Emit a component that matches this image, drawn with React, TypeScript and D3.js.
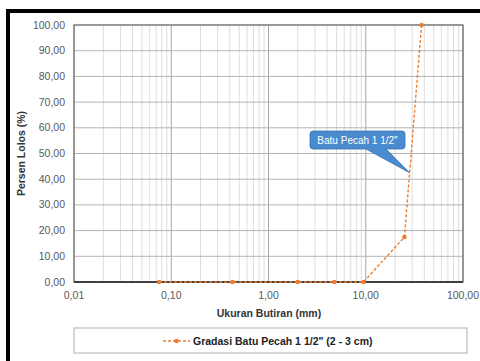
import React from "react";
import * as d3 from "d3";

// Sieve sizes (mm) and cumulative percent passing
const sieveSizes = [0.075, 0.425, 2.0, 4.75, 9.5, 25, 37.5];
const percentPassing = [0, 0, 0, 0, 0, 17.5, 100];
const xTicks = [0.01, 0.1, 1, 10, 100];
const yTicks = [0, 10, 20, 30, 40, 50, 60, 70, 80, 90, 100];
const seriesName = 'Gradasi Batu Pecah 1 1/2" (2 - 3 cm)';
const calloutText = 'Batu Pecah 1 1/2"';

const W = 480;
const H = 361;
const M = { left: 74, right: 463, top: 25, bottom: 282 };
const ORANGE = "#ED7D31";
const FONT = "Liberation Sans, Arial, sans-serif";

const fmt = (v: number) => v.toFixed(2).replace(".", ",");

export default function App() {
  const x = d3.scaleLog().domain([0.01, 100]).range([M.left, M.right]);
  const y = d3.scaleLinear().domain([0, 100]).range([M.bottom, M.top]);

  const minor: number[] = [];
  for (let e = -2; e < 2; e++) {
    for (let k = 2; k <= 9; k++) minor.push(k * Math.pow(10, e));
  }

  const pts = sieveSizes.map((s, i) => [x(s), y(percentPassing[i])] as [number, number]);
  const line = d3.line()(pts) || "";

  // callout points at the last segment of the curve, at 42.5 %
  const [ax, ay] = pts[pts.length - 2];
  const [bx, by] = pts[pts.length - 1];
  const tipY = y(42.5);
  const tipX = ax + ((tipY - ay) / (by - ay)) * (bx - ax);
  const bx0 = 310, bx1 = 405, by0 = 131, by1 = 149;

  return (
    <svg width={W} height={H} style={{ position: "absolute", left: 0, top: 0, background: "#fff" }}>
      <rect x={0} y={0} width={W} height={H} fill="#fff" />
      {/* frame */}
      <rect x={6} y={9} width={W - 6} height={4} fill="#000" />
      <rect x={6} y={9} width={4} height={H - 9} fill="#000" />

      {/* minor grid */}
      {minor.map((v) => (
        <line key={"m" + v} x1={x(v)} x2={x(v)} y1={M.top} y2={M.bottom} stroke="#dcdcdc" strokeWidth={1} />
      ))}
      {/* major grid */}
      {xTicks.map((v) => (
        <line key={"xv" + v} x1={x(v)} x2={x(v)} y1={M.top} y2={M.bottom} stroke="#a6a6a6" strokeWidth={1} />
      ))}
      {yTicks.map((v) => (
        <line key={"yg" + v} x1={M.left} x2={M.right} y1={y(v)} y2={y(v)} stroke="#b4b4b4" strokeWidth={1} />
      ))}
      {/* plot border */}
      <rect x={M.left} y={M.top} width={M.right - M.left} height={M.bottom - M.top} fill="none" stroke="#6e6e6e" strokeWidth={1.2} />
      <line x1={M.left} x2={M.right} y1={M.bottom} y2={M.bottom} stroke="#222" strokeWidth={1.5} />

      {/* y tick labels */}
      {yTicks.map((v) => (
        <text key={"yl" + v} x={65} y={y(v) + 3.5} textAnchor="end" fontSize={10.5} fontFamily={FONT} fill="#595959">
          {fmt(v)}
        </text>
      ))}
      {/* x tick labels */}
      {xTicks.map((v) => (
        <text key={"xl" + v} x={x(v)} y={299} textAnchor="middle" fontSize={10.5} fontFamily={FONT} fill="#595959">
          {fmt(v)}
        </text>
      ))}

      {/* axis titles */}
      <text x={269} y={317} textAnchor="middle" fontSize={10.5} fontWeight="bold" fontFamily={FONT} fill="#333">
        Ukuran Butiran (mm)
      </text>
      <text
        transform={`translate(25,${(M.top + M.bottom) / 2}) rotate(-90)`}
        textAnchor="middle"
        fontSize={10.5}
        fontWeight="bold"
        fontFamily={FONT}
        fill="#333"
      >
        Persen Lolos (%)
      </text>

      {/* series */}
      <path d={line} fill="none" stroke={ORANGE} strokeWidth={1.4} strokeDasharray="3,2" />
      {pts.map(([px, py], i) => (
        <circle key={"p" + i} cx={px} cy={py} r={2.3} fill={ORANGE} />
      ))}

      {/* callout */}
      <path
        d={`M${bx0 + 3},${by0} L${bx1 - 3},${by0} Q${bx1},${by0} ${bx1},${by0 + 3} L${bx1},${by1 - 3} Q${bx1},${by1} ${bx1 - 3},${by1}
            L${386},${by1} L${tipX},${tipY} L${366},${by1} L${bx0 + 3},${by1} Q${bx0},${by1} ${bx0},${by1 - 3} L${bx0},${by0 + 3} Q${bx0},${by0} ${bx0 + 3},${by0} Z`}
        fill="#4a8bd0"
        stroke="#3a72b0"
        strokeWidth={0.8}
      />
      <text x={(bx0 + bx1) / 2} y={by0 + 13} textAnchor="middle" fontSize={10} fontFamily={FONT} fill="#fff">
        {calloutText}
      </text>

      {/* legend */}
      <rect x={74} y={328} width={393} height={25} fill="#fff" stroke="#bdbdbd" strokeWidth={1.2} />
      <line x1={163} x2={190} y1={341} y2={341} stroke={ORANGE} strokeWidth={1.4} strokeDasharray="3,2" />
      <circle cx={176.5} cy={341} r={2.3} fill={ORANGE} />
      <text x={193} y={344.5} fontSize={10.5} fontWeight="bold" fontFamily={FONT} fill="#222">
        {seriesName}
      </text>
    </svg>
  );
}
